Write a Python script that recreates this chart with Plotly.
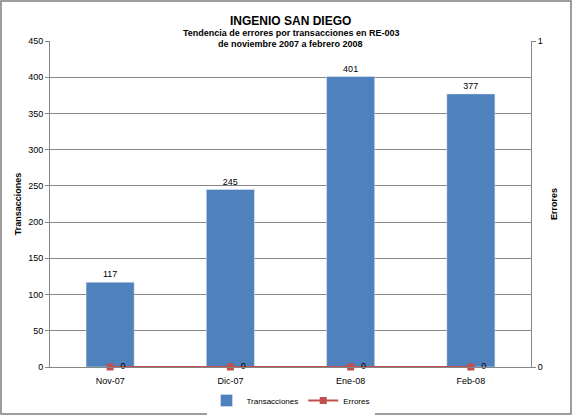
import plotly.graph_objects as go

meses = ['Nov-07', 'Dic-07', 'Ene-08', 'Feb-08']
transacciones = [117, 245, 401, 377]
errores = [0, 0, 0, 0]

titulo = 'INGENIO SAN DIEGO'
subtitulo1 = 'Tendencia de errores por transacciones en RE-003'
subtitulo2 = 'de noviembre 2007 a febrero 2008'

font = 'Liberation Sans'

fig = go.Figure()
fig.add_trace(go.Bar(x=meses, y=transacciones, name='Transacciones',
                     marker_color='#4F81BD', text=transacciones,
                     textposition='outside', textfont=dict(size=9, color='#000000'),
                     cliponaxis=False))
fig.add_trace(go.Scatter(x=meses, y=errores, name='Errores', yaxis='y2',
                         mode='lines+markers+text', texttemplate='  %{y}',
                         textposition='middle right',
                         textfont=dict(size=9, color='#000000'),
                         line=dict(color='#C0504D', width=2),
                         marker=dict(symbol='square', size=7, color='#C0504D'),
                         cliponaxis=False))

fig.update_layout(
    width=572, height=415,
    margin=dict(l=50, r=41, t=41, b=48),
    paper_bgcolor='white', plot_bgcolor='white',
    font=dict(family=font, size=9, color='#000000'),
    bargap=0.6,
    showlegend=True,
    legend=dict(orientation='h', x=0.5, xanchor='center', yref='container',
                y=0.035, yanchor='middle', font=dict(size=8)),
    xaxis=dict(showline=True, linecolor='#868686', ticks='', tickfont=dict(size=9),
               ticklabelstandoff=5, automargin=False),
    yaxis=dict(range=[0, 450], dtick=50, showgrid=True, gridcolor='#868686',
               gridwidth=1, showline=True, linecolor='#868686', ticks='outside',
               ticklen=4, tickcolor='#868686', zeroline=False, automargin=False,
               title=dict(text='<b>Transacciones</b>', font=dict(size=9), standoff=5)),
    yaxis2=dict(range=[0, 1], dtick=1, overlaying='y', side='right', showgrid=False,
                showline=True, linecolor='#868686', ticks='outside', ticklen=4,
                tickcolor='#868686', zeroline=False, automargin=False,
                title=dict(text='<b>Errores</b>', font=dict(size=9), standoff=8)),
)

# titulos como anotaciones
fig.add_annotation(text='<b>' + titulo + '</b>', xref='paper', yref='paper',
                   x=0.5, y=1 + 29/326, showarrow=False, font=dict(size=12))
fig.add_annotation(text='<b>' + subtitulo1 + '</b>', xref='paper', yref='paper',
                   x=0.5, y=1 + 15/326, showarrow=False, font=dict(size=9))
fig.add_annotation(text='<b>' + subtitulo2 + '</b>', xref='paper', yref='paper',
                   x=0.5, y=1 + 4/326, showarrow=False, font=dict(size=9))

fig.add_shape(type='rect', xref='paper', yref='paper',
              x0=-49/481, x1=1 + 40/481, y0=-47/326, y1=1 + 40/326,
              line=dict(color='#7F7F7F', width=1.5))

fig.write_html("out.html", config={'displayModeBar': False},
               post_script="document.body.style.margin='0';")
